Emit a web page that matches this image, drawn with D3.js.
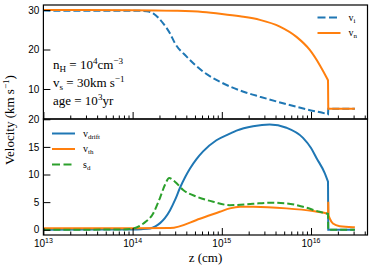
<!DOCTYPE html>
<html>
<head>
<meta charset="utf-8">
<script src="https://cdn.jsdelivr.net/npm/d3@7"></script>
<style>
  body { margin: 0; background: #fff; }
  text { fill: #000; }
</style>
</head>
<body>
<svg id="chart" width="374" height="272"></svg>
<script>
// values (z in cm, velocities in km/s)
const viZ   = [1e13, 1e14, 1.2e14, 1.44e14, 1.7e14, 2.2e14, 2.62e14, 2.98e14, 4.03e14, 6.17e14, 9.5e14, 1.89e15, 2.67e15, 4.85e15, 8.9e15, 1.51e16, 1.55e16, 1.56e16, 3.1e16];
const viVal = [29.85, 29.8, 29.8, 29.7, 29.16, 26.6, 24.1, 21.6, 18.2, 14.4, 11.85, 9.06, 8.05, 6.38, 4.86, 3.67, 3.6, 5.0, 5.0];

const vnZ   = [1e13, 1e14, 3e14, 6.1e14, 1e15, 1.6e15, 2.67e15, 4.47e15, 6.87e15, 9.68e15, 1.25e16, 1.53e16, 1.55e16, 1.56e16, 3.1e16];
const vnVal = [30.0, 29.95, 29.8, 29.5, 29.0, 28.4, 27.5, 25.8, 23.2, 19.9, 16.1, 12.45, 12.2, 5.0, 5.0];

const driftZ   = [1e13, 1e14, 1.25e14, 1.57e14, 1.8e14, 2.03e14, 2.3e14, 2.62e14, 2.99e14, 3.4e14, 3.9e14, 4.4e14, 5.2e14, 6.17e14, 8.7e14, 1.23e15, 1.46e15, 2.24e15, 3.44e15, 5.3e15, 8.13e15, 1.0e16, 1.15e16, 1.42e16, 1.55e16, 1.56e16, 3.1e16];
const driftVal = [0.02, 0.05, 0.1, 0.22, 0.6, 1.2, 2.1, 3.5, 5.4, 7.6, 9.6, 11.1, 12.8, 14.2, 16.2, 17.4, 17.95, 18.75, 19.07, 18.47, 16.64, 14.8, 13.0, 10.3, 8.7, 0.0, 0.0];

const thZ   = [1e13, 1e14, 2.63e14, 5.68e14, 9.5e14, 1.23e15, 1.6e15, 2.24e15, 5.3e15, 1.05e16, 1.5e16, 1.55e16, 1.56e16, 1.57e16, 1.62e16, 1.76e16, 2.1e16, 2.95e16, 3.1e16];
const thVal = [0.25, 0.25, 0.3, 2.0, 3.25, 3.87, 4.16, 4.16, 3.87, 3.38, 2.95, 2.9, 5.07, 2.6, 2.04, 1.13, 0.64, 0.46, 0.45];

const sdZ   = [1e13, 8e13, 1.02e14, 1.32e14, 1.7e14, 2.02e14, 2.3e14, 2.57e14, 2.98e14, 3.69e14, 5.21e14, 8.0e14, 1.23e15, 2.24e15, 3.44e15, 5.3e15, 8.13e15, 1.25e16, 1.49e16, 1.55e16, 1.56e16, 3.1e16];
const sdVal = [0.0, 0.05, 0.22, 1.13, 2.96, 5.7, 8.1, 9.35, 8.7, 7.2, 6.0, 5.07, 4.45, 4.7, 4.9, 4.78, 4.16, 3.25, 2.96, 2.9, 0.0, 0.0];

const xMajor = [1e13, 1e14, 1e15, 1e16];
const xMajorExp = ["13", "14", "15", "16"];
const topTicks = [10, 20, 30];
const botTicks = [0, 5, 10, 15, 20];

const blue = "#1f77b4", orange = "#ff7f0e", green = "#2ca02c";

const svg = d3.select("#chart");
const left = 43.4, right = 367.5;
const topPanel = {y0: 5, y1: 119};
const botPanel = {y0: 119, y1: 235};

const x = d3.scaleLog().domain([1e13, Math.pow(10, 16.633)]).range([left, right]);
const yTop = d3.scaleLinear().domain([2.4, 31.27]).range([topPanel.y1, topPanel.y0]);
const yBot = d3.scaleLinear().domain([-0.95, 20.05]).range([botPanel.y1, botPanel.y0]);

// minor ticks 2..9 per decade
let xMinor = [];
for (let e = 13; e <= 16; e++) {
  for (let m = 2; m <= 9; m++) {
    const v = m * Math.pow(10, e);
    if (v <= x.domain()[1]) xMinor.push(v);
  }
}

// text with sub/superscripts
function rich(sel, parts, size) {
  let cur = 0;
  parts.forEach(([t, k]) => {
    const ts = sel.append("tspan").text(t);
    let shift = 0;
    if (k === "sup") { shift = -size * 0.42; ts.attr("font-size", size * 0.7); }
    if (k === "sub") { shift = size * 0.22; ts.attr("font-size", size * 0.7); }
    if (shift - cur !== 0) ts.attr("dy", shift - cur);
    cur = shift;
  });
  return sel;
}

svg.append("defs").selectAll("clipPath")
  .data([["clipTop", topPanel], ["clipBot", botPanel]])
  .enter().append("clipPath").attr("id", d => d[0])
  .append("rect")
  .attr("x", left).attr("y", d => d[1].y0)
  .attr("width", right - left).attr("height", d => d[1].y1 - d[1].y0);

// smooth runs, straight jumps at the shock (where z barely changes)
function drawLine(zs, vs, yScale, color, dashed, clip) {
  const pts = zs.map((z, i) => [z, vs[i]]);
  const curved = d3.line().x(d => x(d[0])).y(d => yScale(d[1])).curve(d3.curveMonotoneX);
  const straight = d3.line().x(d => x(d[0])).y(d => yScale(d[1]));
  let d = "", run = [pts[0]];
  const flush = (gen, seg) => {
    if (seg.length < 2) return;
    const s = gen(seg);
    d += d === "" ? s : "L" + s.slice(1);
  };
  for (let i = 1; i < pts.length; i++) {
    if (pts[i][0] / pts[i - 1][0] < 1.01) {
      flush(curved, run);
      flush(straight, [pts[i - 1], pts[i]]);
      run = [pts[i]];
    } else {
      run.push(pts[i]);
    }
  }
  flush(curved, run);
  svg.append("path")
    .attr("clip-path", "url(#" + clip + ")")
    .attr("d", d)
    .attr("fill", "none")
    .attr("stroke", color)
    .attr("stroke-width", 2)
    .attr("stroke-dasharray", dashed ? "7,3" : null);
}

// top panel
drawLine(viZ, viVal, yTop, blue, true, "clipTop");
drawLine(vnZ, vnVal, yTop, orange, false, "clipTop");
// bottom panel
drawLine(driftZ, driftVal, yBot, blue, false, "clipBot");
drawLine(thZ, thVal, yBot, orange, false, "clipBot");
drawLine(sdZ, sdVal, yBot, green, true, "clipBot");

// axes (inward ticks)
function xAxes(yPos, withLabels) {
  const gMin = svg.append("g").attr("transform", `translate(0,${yPos})`)
    .call(d3.axisBottom(x).tickValues(xMinor).tickSize(-3.5).tickFormat(""));
  const gMaj = svg.append("g").attr("transform", `translate(0,${yPos})`)
    .call(d3.axisBottom(x).tickValues(xMajor).tickSize(-7).tickFormat(""));
  [gMin, gMaj].forEach(g => {
    g.select(".domain").remove();
    g.selectAll("line").attr("stroke", "#000").attr("stroke-width", 1);
  });
  if (withLabels) {
    xMajor.forEach((v, i) => {
      const t = svg.append("text")
        .attr("x", x(v)).attr("y", yPos + 12)
        .attr("text-anchor", "middle")
        .attr("font-family", "Liberation Sans, Arial, sans-serif")
        .attr("font-size", 10);
      rich(t, [["10", "n"], [xMajorExp[i], "sup"]], 10);
    });
  }
}
xAxes(topPanel.y1, false);
xAxes(botPanel.y1, true);

function yAxis(scale, ticks) {
  const g = svg.append("g").attr("transform", `translate(${left},0)`)
    .call(d3.axisLeft(scale).tickValues(ticks).tickSize(-7).tickPadding(4).tickFormat(d3.format("d")));
  g.select(".domain").remove();
  g.selectAll("line").attr("stroke", "#000").attr("stroke-width", 1);
  g.selectAll("text")
    .attr("font-family", "Liberation Sans, Arial, sans-serif")
    .attr("font-size", 10)
    .attr("fill", "#000");
}
yAxis(yTop, topTicks);
yAxis(yBot, botTicks);

// frames
[topPanel, botPanel].forEach(p => {
  svg.append("rect")
    .attr("x", left).attr("y", p.y0)
    .attr("width", right - left).attr("height", p.y1 - p.y0)
    .attr("fill", "none").attr("stroke", "#000").attr("stroke-width", 1.2);
});

// annotation
const serif = "Liberation Serif, Times New Roman, serif";
const notes = [
  [["n", "n"], ["H", "sub"], [" = 10", "n"], ["4", "sup"], ["cm", "n"], ["\u22123", "sup"]],
  [["v", "n"], ["s", "sub"], [" = 30km s", "n"], ["\u22121", "sup"]],
  [["age = 10", "n"], ["3", "sup"], ["yr", "n"]]
];
notes.forEach((parts, i) => {
  const t = svg.append("text")
    .attr("x", 53).attr("y", 69 + i * 18)
    .attr("font-family", serif).attr("font-size", 13)
    .attr("fill", "#333");
  rich(t, parts, 13);
});

// legends
function legend(items, lx, ly0, dy) {
  items.forEach((it, i) => {
    const yy = ly0 + i * dy;
    svg.append("line")
      .attr("x1", lx).attr("x2", lx + 23)
      .attr("y1", yy).attr("y2", yy)
      .attr("stroke", it.color).attr("stroke-width", 2)
      .attr("stroke-dasharray", it.dashed ? "8,3.5" : null);
    const t = svg.append("text")
      .attr("x", lx + 31).attr("y", yy + 3)
      .attr("font-family", serif).attr("font-size", 10)
      .attr("fill", "#333");
    rich(t, it.label, 10);
  });
}
legend([
  {color: blue, dashed: true, label: [["v", "n"], ["i", "sub"]]},
  {color: orange, dashed: false, label: [["v", "n"], ["n", "sub"]]}
], 317.5, 17.5, 15.5);
legend([
  {color: blue, dashed: false, label: [["v", "n"], ["drift", "sub"]]},
  {color: orange, dashed: false, label: [["v", "n"], ["th", "sub"]]},
  {color: green, dashed: true, label: [["s", "n"], ["d", "sub"]]}
], 52, 133.5, 15.5);

// axis labels
svg.append("text")
  .attr("x", (left + right) / 2).attr("y", 262)
  .attr("text-anchor", "middle")
  .attr("font-family", serif).attr("font-size", 13)
  .attr("fill", "#333")
  .text("z (cm)");

const yl = svg.append("text")
  .attr("transform", "translate(14,120) rotate(-90)")
  .attr("text-anchor", "middle")
  .attr("font-family", serif).attr("font-size", 13)
  .attr("fill", "#333");
rich(yl, [["Velocity (km s", "n"], ["\u22121", "sup"], [")", "n"]], 13);
</script>
</body>
</html>
